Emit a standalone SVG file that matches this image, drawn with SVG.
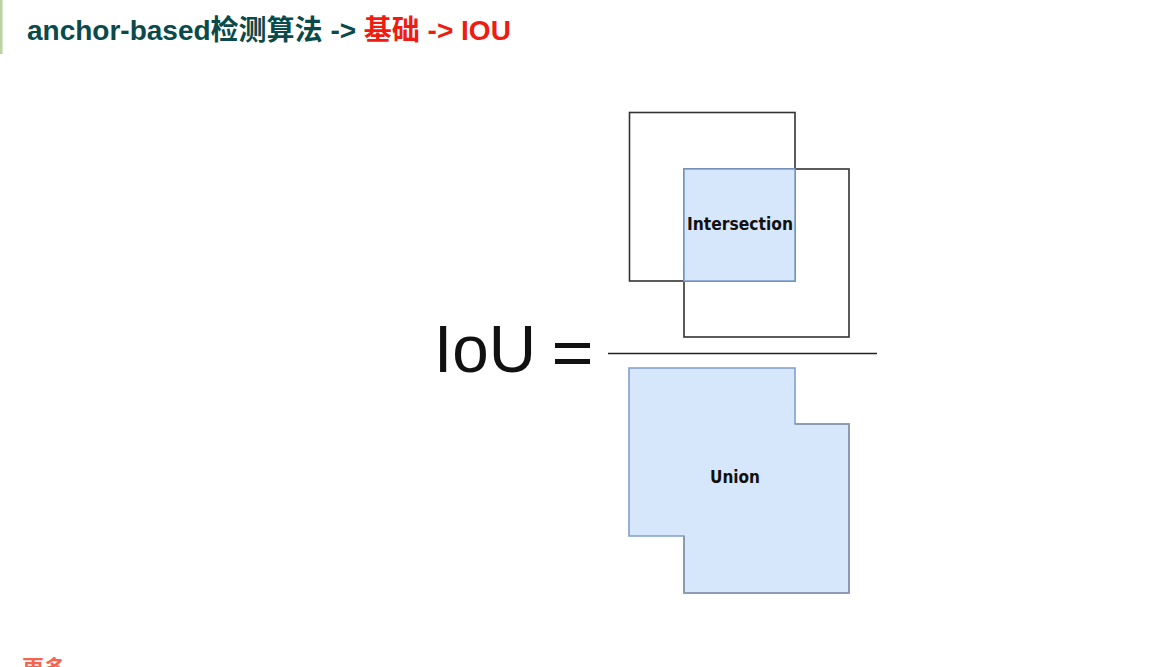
<svg xmlns="http://www.w3.org/2000/svg" width="1171" height="667" viewBox="0 0 1171 667">
<style>
.title{font-family:"Liberation Sans","Noto Sans CJK SC",sans-serif;font-weight:bold;font-size:28px}
.box{fill:none;stroke:#333;stroke-width:1.6}
.fill{fill:#d6e6fb;stroke:#7f9fd0;stroke-width:1.6}
.lbl{font-family:"DejaVu Sans Condensed","DejaVu Sans",sans-serif;font-weight:bold;font-size:17px;fill:#111;text-anchor:middle}
</style>
<rect width="1171" height="667" fill="#ffffff"/>
<rect x="0" y="0" width="2.5" height="54" fill="#b9d3a2"/>
<g id="title">
<text class="title" x="27" y="40"><tspan fill="#0b4a4a">anchor-based检测算法 -&gt; </tspan><tspan fill="#ee1c12">基础 -&gt; IOU</tspan></text>
</g>
<g id="intersection">
<rect class="box" x="629.5" y="112.5" width="165.5" height="168.5"/>
<rect class="box" x="684" y="169" width="165" height="168"/>
<rect class="fill" x="684" y="169" width="111" height="112"/>
<text class="lbl" x="740" y="230" textLength="106" lengthAdjust="spacingAndGlyphs">Intersection</text>
</g>
<g id="formula">
<text x="434" y="372" font-family="Liberation Sans,sans-serif" font-size="66" fill="#111" textLength="102" lengthAdjust="spacingAndGlyphs">IoU</text>
<rect x="555" y="343" width="35" height="5" fill="#111"/>
<rect x="555" y="359" width="35" height="5" fill="#111"/>
</g>
<g id="connectors">
<line x1="608" y1="353.5" x2="877" y2="353.5" stroke="#222" stroke-width="1.6"/>
</g>
<g id="union">
<polygon class="fill" points="629,368 795,368 795,424 849,424 849,593 684,593 684,536 629,536"/>
<polyline points="795,424 849,424 849,593 684,593 684,536" fill="none" stroke="#8c94a4" stroke-width="1.6"/>
<text class="lbl" x="735" y="483">Union</text>
</g>
<g id="more">
<text x="22" y="676" font-family="Liberation Sans,'Noto Sans CJK SC',sans-serif" font-weight="bold" font-size="22" fill="#f4644e">更多</text>
</g>
</svg>
